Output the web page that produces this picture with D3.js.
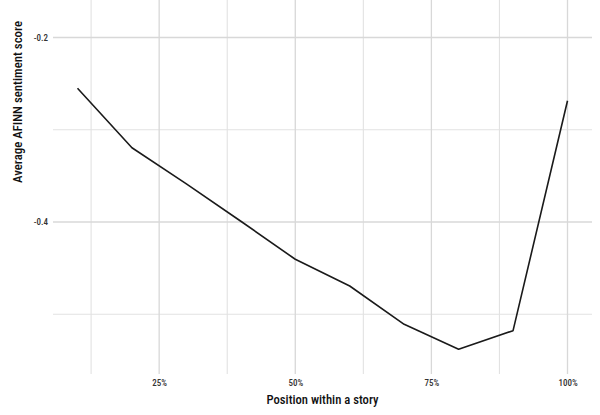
<!DOCTYPE html>
<html>
<head>
<meta charset="utf-8">
<script src="https://cdn.jsdelivr.net/npm/d3@7"></script>
<style>
  html, body { margin: 0; padding: 0; background: #fff; }
  svg { display: block; }
  text { font-family: "Roboto Condensed", "Liberation Sans Narrow", Roboto, sans-serif; }
</style>
</head>
<body>
<svg id="chart" width="600" height="415"></svg>
<script>
const positions = [0.1, 0.2, 0.3, 0.4, 0.5, 0.6, 0.7, 0.8, 0.9, 1.0];
const sentiment = [-0.2551, -0.3195, -0.3587, -0.3992, -0.4404, -0.4694, -0.5109, -0.5380, -0.5178, -0.2685];
const xMajorTicks = [0.25, 0.5, 0.75, 1.0];
const xMinorTicks = [0.125, 0.375, 0.625, 0.875];
const yMajorTicks = [-0.2, -0.4];
const yMinorTicks = [-0.3, -0.5];
const xTitle = "Position within a story";
const yTitle = "Average AFINN sentiment score";

const svg = d3.select("#chart");
const panel = { left: 53, right: 592, top: 0, bottom: 374 };

const x = d3.scaleLinear().domain([0.055, 1.045]).range([panel.left, panel.right]);
const y = d3.scaleLinear().domain([-0.56477, -0.15935]).range([panel.bottom, panel.top]);

const grid = svg.append("g");
grid.selectAll(".vmin").data(xMinorTicks).join("line")
  .attr("x1", d => x(d)).attr("x2", d => x(d))
  .attr("y1", panel.top).attr("y2", panel.bottom)
  .attr("stroke", "#e2e2e2").attr("stroke-width", 1.1);
grid.selectAll(".hmin").data(yMinorTicks).join("line")
  .attr("x1", panel.left).attr("x2", panel.right)
  .attr("y1", d => y(d)).attr("y2", d => y(d))
  .attr("stroke", "#e2e2e2").attr("stroke-width", 1.1);
grid.selectAll(".vmaj").data(xMajorTicks).join("line")
  .attr("x1", d => x(d)).attr("x2", d => x(d))
  .attr("y1", panel.top).attr("y2", panel.bottom)
  .attr("stroke", "#d8d8d8").attr("stroke-width", 1.3);
grid.selectAll(".hmaj").data(yMajorTicks).join("line")
  .attr("x1", panel.left).attr("x2", panel.right)
  .attr("y1", d => y(d)).attr("y2", d => y(d))
  .attr("stroke", "#d8d8d8").attr("stroke-width", 1.3);

const fam = "\"Roboto Condensed\", \"Liberation Sans Narrow\", Roboto, sans-serif";

const xAxis = d3.axisBottom(x).tickValues(xMajorTicks).tickFormat(d3.format(".0%")).tickSize(0).tickPadding(0);
const gx = svg.append("g").attr("transform", `translate(0,${panel.bottom + 6})`).call(xAxis);
gx.select(".domain").remove();
gx.selectAll("text").attr("font-size", 9).attr("font-weight", 500).attr("fill", "#333333")
  .attr("font-family", fam);

const yAxis = d3.axisLeft(y).tickValues(yMajorTicks).tickFormat(d3.format(".1f")).tickSize(0).tickPadding(5);
const gy = svg.append("g").attr("transform", `translate(${panel.left},0)`).call(yAxis);
gy.select(".domain").remove();
gy.selectAll("text").attr("font-size", 9).attr("font-weight", 500).attr("fill", "#333333")
  .attr("font-family", fam)
  .text(d => d3.format(".1f")(d).replace("−", "-"));

const line = d3.line().x(d => x(d[0])).y(d => y(d[1]));
svg.append("path")
  .datum(positions.map((p, i) => [p, sentiment[i]]))
  .attr("d", line)
  .attr("fill", "none")
  .attr("stroke", "#1a1a1a")
  .attr("stroke-width", 1.6)
  .attr("stroke-linejoin", "round");

svg.append("text")
  .attr("x", (panel.left + panel.right) / 2).attr("y", 404)
  .attr("text-anchor", "middle")
  .attr("font-size", 12).attr("font-weight", 500).attr("fill", "#111")
  .attr("textLength", 112).attr("lengthAdjust", "spacingAndGlyphs")
  .text(xTitle);

svg.append("text")
  .attr("transform", "translate(22,102) rotate(-90)")
  .attr("text-anchor", "middle")
  .attr("font-size", 12).attr("font-weight", 500).attr("fill", "#111")
  .attr("textLength", 162).attr("lengthAdjust", "spacingAndGlyphs")
  .text(yTitle);
</script>
</body>
</html>
